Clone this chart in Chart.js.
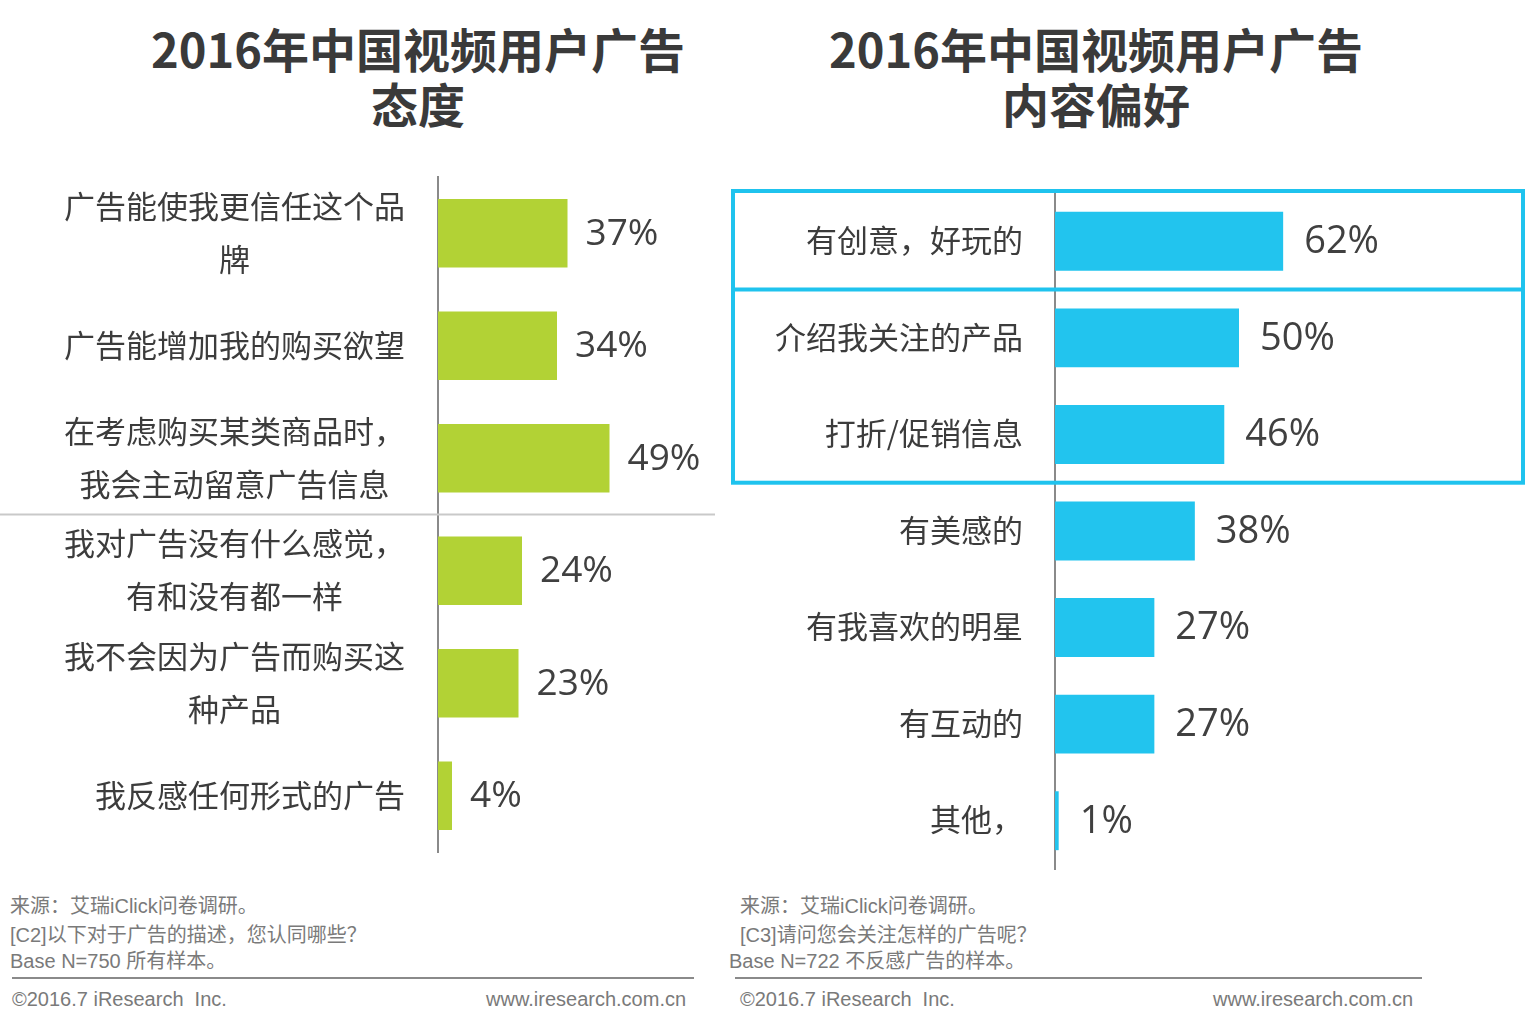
<!DOCTYPE html>
<html>
<head>
<meta charset="utf-8">
<script src="https://cdn.jsdelivr.net/npm/chart.js@4"></script>
<style>
  html,body{margin:0;padding:0;background:#fff;}
  body{width:1531px;height:1018px;position:relative;overflow:hidden;font-family:"Liberation Sans","Noto Sans CJK SC",sans-serif;}
  .title{position:absolute;top:20px;width:700px;text-align:center;font-family:"Noto Sans CJK SC",sans-serif;font-weight:bold;font-size:47px;line-height:55px;color:#3a3a3a;}
  .box{position:absolute;top:140px;height:740px;}
  .note{position:absolute;font-size:20px;color:#7a7a7a;white-space:nowrap;font-family:"Liberation Sans","Noto Sans CJK SC",sans-serif;}
  .rule{position:absolute;top:977px;height:2px;background:#8a8a8a;}
</style>
</head>
<body>
<div class="title" style="left:68px;">2016年中国视频用户广告<br>态度</div>
<div class="title" style="left:746px;">2016年中国视频用户广告<br>内容偏好</div>

<div class="box" style="left:0;width:720px;"><canvas id="c1"></canvas></div>
<div class="box" style="left:720px;width:811px;"><canvas id="c2"></canvas></div>

<div class="note" style="left:10px;top:890px;">来源：艾瑞iClick问卷调研。</div>
<div class="note" style="left:10px;top:919px;">[C2]以下对于广告的描述，您认同哪些？</div>
<div class="note" style="left:10px;top:945px;">Base N=750 所有样本。</div>
<div class="rule" style="left:12px;width:682px;"></div>
<div class="note" style="left:12px;top:988px;">©2016.7 iResearch&nbsp; Inc.</div>
<div class="note" style="left:486px;top:988px;">www.iresearch.com.cn</div>

<div class="note" style="left:740px;top:890px;">来源：艾瑞iClick问卷调研。</div>
<div class="note" style="left:740px;top:919px;">[C3]请问您会关注怎样的广告呢？</div>
<div class="note" style="left:729px;top:945px;">Base N=722 不反感广告的样本。</div>
<div class="rule" style="left:735px;width:687px;"></div>
<div class="note" style="left:740px;top:988px;">©2016.7 iResearch&nbsp; Inc.</div>
<div class="note" style="left:1213px;top:988px;">www.iresearch.com.cn</div>

<script>
const leftCategories = [["广告能使我更信任这个品","牌"], "广告能增加我的购买欲望", ["在考虑购买某类商品时，","我会主动留意广告信息"], ["我对广告没有什么感觉，","有和没有都一样"], ["我不会因为广告而购买这","种产品"], "我反感任何形式的广告"];
const leftValues = [37, 34, 49, 24, 23, 4];
const rightCategories = ["有创意，好玩的", "介绍我关注的产品", "打折/促销信息", "有美感的", "有我喜欢的明星", "有互动的", "其他，"];
const rightValues = [62, 50, 46, 38, 27, 27, 1];

const labelFont = '31px "Noto Sans CJK SC", sans-serif';

function makePlugin(opts){
  return {
    id: 'custom' + opts.key,
    beforeDatasetsDraw(chart){
      const ctx = chart.ctx, y = chart.scales.y;
      ctx.save();
      if (opts.separatorAfter != null) {
        const i = opts.separatorAfter;
        const py = (y.getPixelForValue(i) + y.getPixelForValue(i+1)) / 2;
        ctx.strokeStyle = '#c9c9c9'; ctx.lineWidth = 2;
        ctx.beginPath(); ctx.moveTo(0, py); ctx.lineTo(715, py); ctx.stroke();
      }
      ctx.restore();
    },
    afterDatasetsDraw(chart){
      const ctx = chart.ctx, y = chart.scales.y, x = chart.scales.x, area = chart.chartArea;
      const labels = chart.data.labels, vals = chart.data.datasets[0].data;
      ctx.save();
      ctx.font = labelFont; ctx.fillStyle = '#3c3c3c'; ctx.textBaseline = 'middle'; ctx.textAlign = 'center';
      labels.forEach((lab, i) => {
        const lines = Array.isArray(lab) ? lab : [lab];
        const w = Math.max(...lines.map(l => ctx.measureText(l).width));
        const cx = area.left - opts.labelGap - w/2;
        const cy = y.getPixelForValue(i);
        const lh = 53;
        lines.forEach((l, k) => {
          ctx.fillText(l, cx, cy + (k - (lines.length-1)/2) * lh - 1);
        });
      });
      ctx.font = opts.valueFont; ctx.fillStyle = '#404040'; ctx.textAlign = 'left';
      vals.forEach((v, i) => {
        ctx.fillText(v + '%', x.getPixelForValue(v) + opts.valueGap, y.getPixelForValue(i) + 1);
      });
      if (opts.boxes) {
        ctx.strokeStyle = '#1fc3ee'; ctx.lineWidth = 4;
        const pitch = y.getPixelForValue(1) - y.getPixelForValue(0);
        const top = y.getPixelForValue(0) - pitch/2 - 2;
        const mid = (y.getPixelForValue(0) + y.getPixelForValue(1)) / 2;
        const bot = (y.getPixelForValue(2) + y.getPixelForValue(3)) / 2;
        ctx.strokeRect(13, top, 790, bot - top);
        ctx.beginPath(); ctx.moveTo(13, mid); ctx.lineTo(803, mid); ctx.stroke();
      }
      ctx.restore();
    }
  };
}

function build(id, cats, vals, color, max, yWidth, pad, barPct, opts){
  new Chart(document.getElementById(id), {
    type: 'bar',
    data: { labels: cats, datasets: [{ data: vals, backgroundColor: color, borderWidth: 0, barPercentage: barPct, categoryPercentage: 1 }] },
    options: {
      indexAxis: 'y',
      responsive: true,
      maintainAspectRatio: false,
      animation: false,
      layout: { padding: pad },
      plugins: { legend: { display: false }, tooltip: { enabled: false } },
      scales: {
        x: { display: false, min: 0, max: max },
        y: {
          display: true,
          grid: { display: false, drawTicks: false },
          border: { display: true, color: '#8a8a8a', width: 2 },
          ticks: { display: false },
          afterFit: s => { s.width = yWidth; }
        }
      }
    },
    plugins: [makePlugin(opts)]
  });
}

build('c1', leftCategories, leftValues, '#b2d235', 80, 438, {top: 37, bottom: 28, left: 0, right: 2}, 0.61,
  {key: 'L', labelGap: 33, separatorAfter: 2, valueFont: '37px "Open Sans", sans-serif', valueGap: 18});
build('c2', rightCategories, rightValues, '#22c4ee', 100, 335, {top: 53, bottom: 11, left: 0, right: 108}, 0.61,
  {key: 'R', labelGap: 32, boxes: true, valueFont: '38px "Open Sans", sans-serif', valueGap: 21});
</script>
</body>
</html>
